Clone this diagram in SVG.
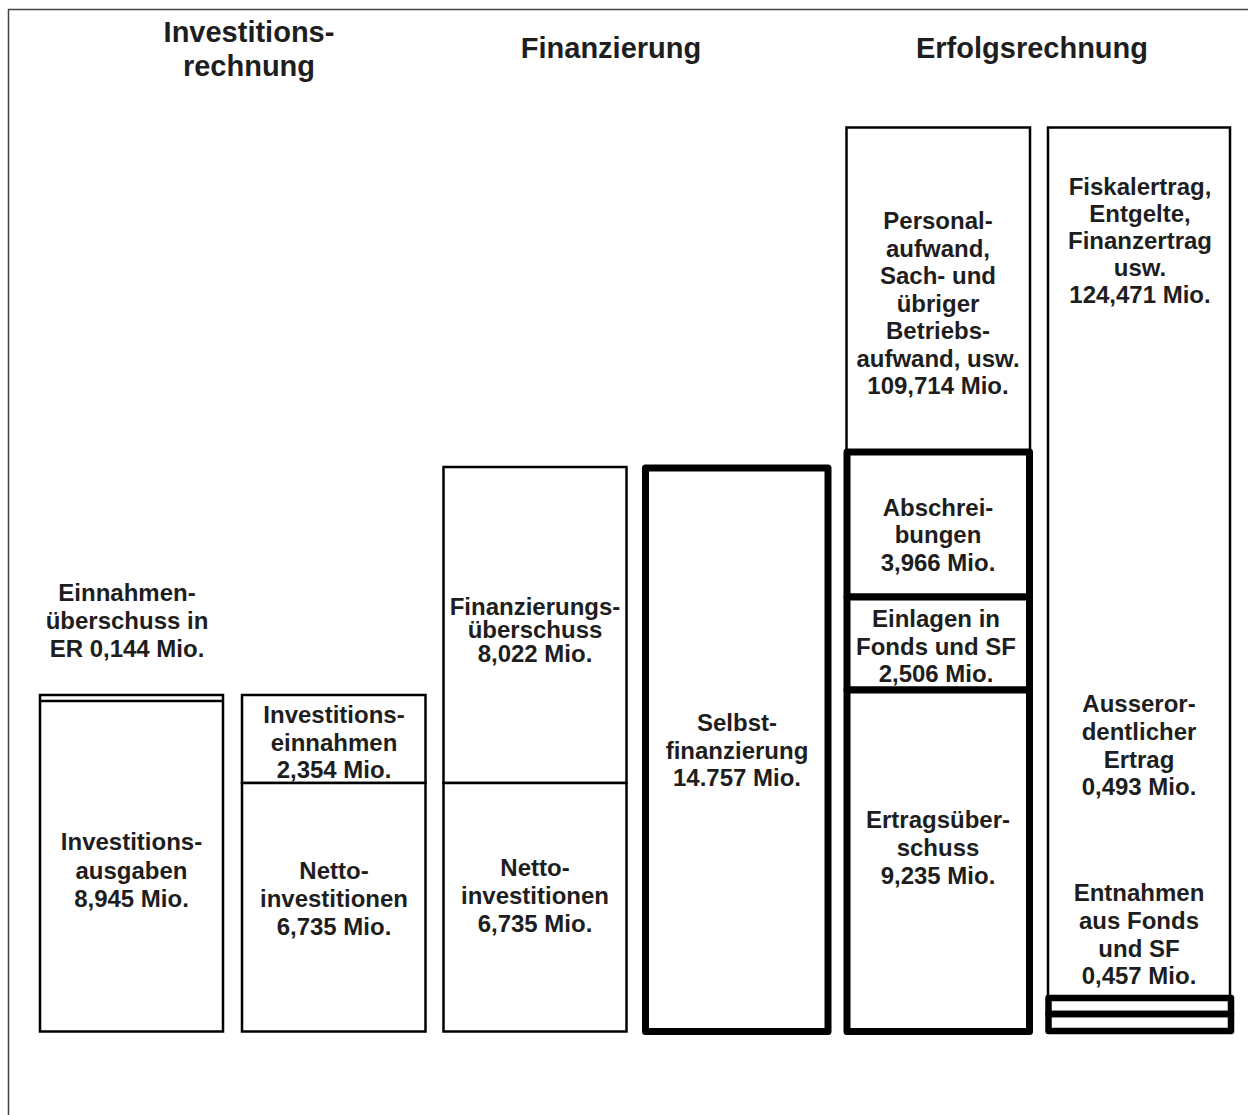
<svg xmlns="http://www.w3.org/2000/svg" width="1248" height="1115" viewBox="0 0 1248 1115">
<style>
  text { font-family: "Liberation Sans", Arial, Helvetica, sans-serif; font-weight: bold; fill: #1e1e1e; text-anchor: middle; }
  .title { font-size: 29px; }
  .lbl { font-size: 24px; }
  .thin { fill: #fff; stroke: #000; stroke-width: 2.5; }
  .thick { fill: #fff; stroke: #000; stroke-width: 7; stroke-linejoin: round; }
  .thick6 { fill: none; stroke: #000; stroke-width: 6.5; stroke-linejoin: round; }
</style>
<rect x="0" y="0" width="1248" height="1115" fill="#fff"/>
<rect id="frame" x="8.5" y="9.5" width="1300" height="1200" fill="none" stroke="#444" stroke-width="1.5"/>

<g id="titles">
  <text class="title" x="249" y="42">Investitions-</text>
  <text class="title" x="249" y="76">rechnung</text>
  <text class="title" x="611" y="58">Finanzierung</text>
  <text class="title" x="1032" y="58">Erfolgsrechnung</text>
</g>

<g id="einnahmenueberschuss">
  <text class="lbl" x="127" y="601">Einnahmen-</text>
  <text class="lbl" x="127" y="629">überschuss in</text>
  <text class="lbl" x="127" y="657">ER 0,144 Mio.</text>
</g>

<g id="investitionsausgaben">
  <rect class="thin" x="40" y="695" width="183" height="336.5"/>
  <line x1="40" y1="701" x2="223" y2="701" stroke="#000" stroke-width="2.5"/>
  <text class="lbl" x="131.5" y="850">Investitions-</text>
  <text class="lbl" x="131.5" y="879">ausgaben</text>
  <text class="lbl" x="131.5" y="907">8,945 Mio.</text>
</g>

<g id="investitionseinnahmen">
  <rect class="thin" x="242" y="695" width="183.5" height="88"/>
  <text class="lbl" x="334" y="723">Investitions-</text>
  <text class="lbl" x="334" y="751">einnahmen</text>
  <text class="lbl" x="334" y="778">2,354 Mio.</text>
</g>

<g id="nettoinvestitionen-1">
  <rect class="thin" x="242" y="783" width="183.5" height="248.5"/>
  <text class="lbl" x="334" y="879">Netto-</text>
  <text class="lbl" x="334" y="907">investitionen</text>
  <text class="lbl" x="334" y="935">6,735 Mio.</text>
</g>

<g id="finanzierungsueberschuss">
  <rect class="thin" x="443.5" y="467" width="183" height="316"/>
  <text class="lbl" x="535" y="615">Finanzierungs-</text>
  <text class="lbl" x="535" y="638">überschuss</text>
  <text class="lbl" x="535" y="662">8,022 Mio.</text>
</g>

<g id="nettoinvestitionen-2">
  <rect class="thin" x="443.5" y="783" width="183" height="248.5"/>
  <text class="lbl" x="535" y="876">Netto-</text>
  <text class="lbl" x="535" y="904">investitionen</text>
  <text class="lbl" x="535" y="932">6,735 Mio.</text>
</g>

<g id="selbstfinanzierung">
  <rect class="thick" x="645.5" y="468" width="182.5" height="563.5"/>
  <text class="lbl" x="737" y="731">Selbst-</text>
  <text class="lbl" x="737" y="759">finanzierung</text>
  <text class="lbl" x="737" y="786">14.757 Mio.</text>
</g>

<g id="personalaufwand">
  <rect class="thin" x="846.5" y="127.5" width="183.5" height="324.5"/>
  <text class="lbl" x="938" y="229">Personal-</text>
  <text class="lbl" x="938" y="256.5">aufwand,</text>
  <text class="lbl" x="938" y="284">Sach- und</text>
  <text class="lbl" x="938" y="311.5">übriger</text>
  <text class="lbl" x="938" y="339">Betriebs-</text>
  <text class="lbl" x="938" y="366.5">aufwand, usw.</text>
  <text class="lbl" x="938" y="394">109,714 Mio.</text>
</g>

<g id="abschreibungen">
  <rect class="thick" x="847" y="452" width="182.5" height="145"/>
  <text class="lbl" x="938" y="515.5">Abschrei-</text>
  <text class="lbl" x="938" y="543">bungen</text>
  <text class="lbl" x="938" y="571">3,966 Mio.</text>
</g>

<g id="einlagen">
  <rect class="thick" x="847" y="597" width="182.5" height="93"/>
  <text class="lbl" x="936" y="627">Einlagen in</text>
  <text class="lbl" x="936" y="654.5">Fonds und SF</text>
  <text class="lbl" x="936" y="682">2,506 Mio.</text>
</g>

<g id="ertragsueberschuss">
  <rect class="thick" x="847" y="690" width="182.5" height="341.5"/>
  <text class="lbl" x="938" y="827.5">Ertragsüber-</text>
  <text class="lbl" x="938" y="855.5">schuss</text>
  <text class="lbl" x="938" y="883.5">9,235 Mio.</text>
</g>

<g id="fiskalertrag">
  <rect class="thin" x="1048" y="127.5" width="182" height="870"/>
  <text class="lbl" x="1140" y="195">Fiskalertrag,</text>
  <text class="lbl" x="1140" y="222">Entgelte,</text>
  <text class="lbl" x="1140" y="249">Finanzertrag</text>
  <text class="lbl" x="1140" y="276">usw.</text>
  <text class="lbl" x="1140" y="303">124,471 Mio.</text>
</g>

<g id="ausserordentlicher-ertrag">
  <text class="lbl" x="1139" y="711.5">Ausseror-</text>
  <text class="lbl" x="1139" y="739.5">dentlicher</text>
  <text class="lbl" x="1139" y="767.5">Ertrag</text>
  <text class="lbl" x="1139" y="794.5">0,493 Mio.</text>
  <rect class="thick6" x="1048.5" y="998" width="182.5" height="16"/>
</g>

<g id="entnahmen">
  <text class="lbl" x="1139" y="900.5">Entnahmen</text>
  <text class="lbl" x="1139" y="928.5">aus Fonds</text>
  <text class="lbl" x="1139" y="956.5">und SF</text>
  <text class="lbl" x="1139" y="983.5">0,457 Mio.</text>
  <rect class="thick6" x="1048.5" y="1014" width="182.5" height="17"/>
</g>

<g id="connectors"></g>
</svg>
